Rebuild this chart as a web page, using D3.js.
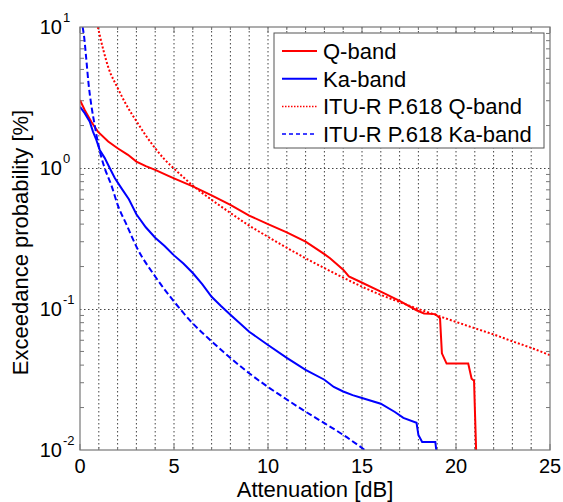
<!DOCTYPE html>
<html>
<head>
<meta charset="utf-8">
<script src="https://cdn.jsdelivr.net/npm/d3@7"></script>
<style>
  body { margin: 0; background: #fff; }
  svg { display: block; font-family: "Liberation Sans", Arial, sans-serif; }
</style>
</head>
<body>
<div id="chart"></div>
<script>
// Measured Q-band exceedance curve
const qBandAtt = [0, 0.25, 0.6, 0.95, 1.5, 2.0, 2.55, 3.0, 3.5, 4.0, 4.7, 5, 6, 7, 8, 9, 10, 11, 12, 13, 13.3, 14, 14.3, 14.9, 16, 17, 17.9, 18.3, 18.9, 19.15, 19.25, 19.5, 20.65, 20.83, 20.96, 21.0, 21.07];
const qBandProb = [3.03, 2.58, 2.13, 1.81, 1.54, 1.38, 1.24, 1.11, 1.03, 0.97, 0.88, 0.845, 0.74, 0.64, 0.547, 0.46, 0.40, 0.35, 0.30, 0.245, 0.229, 0.19, 0.17, 0.156, 0.133, 0.114, 0.098, 0.093, 0.092, 0.086, 0.0485, 0.041, 0.041, 0.032, 0.031, 0.0203, 0.01];

// Measured Ka-band exceedance curve
const kaBandAtt = [0, 0.25, 0.52, 0.69, 0.87, 1.05, 1.31, 1.58, 1.85, 2.2, 2.6, 3.0, 3.5, 4, 4.5, 5, 5.5, 6, 6.5, 7, 7.5, 8, 9, 10, 11, 12, 13, 13.5, 14, 14.5, 15, 16, 16.75, 17.2, 17.9, 18.0, 18.2, 18.9, 18.95];
const kaBandProb = [2.72, 2.45, 2.13, 1.81, 1.58, 1.34, 1.18, 1.0, 0.85, 0.72, 0.6, 0.47, 0.38, 0.32, 0.28, 0.24, 0.21, 0.18, 0.15, 0.122, 0.105, 0.091, 0.069, 0.0556, 0.045, 0.037, 0.0315, 0.028, 0.026, 0.0245, 0.0234, 0.0213, 0.0186, 0.0169, 0.0156, 0.0128, 0.0114, 0.0114, 0.01];

// ITU-R P.618 predictions
const ituQAtt = [0.95, 1.25, 1.5, 2.0, 2.5, 3.0, 3.5, 4.0, 4.5, 5, 5.5, 6, 7, 8, 9, 10, 11, 12, 13, 14, 15, 16, 17, 18, 19, 20, 21, 22, 23, 24, 25];
const ituQProb = [10, 6.8, 5.2, 3.7, 2.75, 2.15, 1.7, 1.38, 1.15, 0.99, 0.86, 0.75, 0.595, 0.48, 0.39, 0.325, 0.272, 0.229, 0.195, 0.167, 0.144, 0.126, 0.112, 0.1, 0.09, 0.081, 0.073, 0.066, 0.059, 0.053, 0.047];

const ituKaAtt = [0.14, 0.22, 0.33, 0.46, 0.6, 0.78, 0.96, 1.13, 1.31, 1.66, 2.0, 2.5, 3, 4, 5, 6, 7, 8, 9, 10, 11, 12, 13, 14, 15.15];
const ituKaProb = [10, 8.5, 6.0, 3.9, 2.8, 2.02, 1.5, 1.2, 1.0, 0.76, 0.55, 0.39, 0.277, 0.17, 0.113, 0.079, 0.059, 0.045, 0.035, 0.028, 0.0228, 0.0187, 0.0155, 0.0128, 0.01];

const xTicks = [0, 5, 10, 15, 20, 25];
const yTicks = [1e-2, 1e-1, 1e0, 1e1];
const yExponents = ["-2", "-1", "0", "1"];
const seriesNames = ["Q-band", "Ka-band", "ITU-R P.618 Q-band", "ITU-R P.618 Ka-band"];

const W = 563, H = 502;
const margin = { top: 27, right: 13, bottom: 52, left: 80 };
const width = W - margin.left - margin.right;
const height = H - margin.top - margin.bottom;

const svg = d3.select("#chart").append("svg")
	.attr("width", W)
	.attr("height", H);

const g = svg.append("g")
	.attr("transform", `translate(${margin.left},${margin.top})`);

const x = d3.scaleLinear().domain([0, 25]).range([0, width]);
const y = d3.scaleLog().domain([1e-2, 1e1]).range([height, 0]);

// grid: every dB vertically, decades horizontally
const gridColor = "#444";
g.selectAll("line.vgrid")
	.data(d3.range(1, 25))
	.enter().append("line")
	.attr("class", "vgrid")
	.attr("x1", d => x(d)).attr("x2", d => x(d))
	.attr("y1", 0).attr("y2", height)
	.attr("stroke", gridColor)
	.attr("stroke-width", 1)
	.attr("stroke-dasharray", "1.5,2.5");

g.selectAll("line.hgrid")
	.data([1e-1, 1e0])
	.enter().append("line")
	.attr("class", "hgrid")
	.attr("x1", 0).attr("x2", width)
	.attr("y1", d => Math.round(y(d)) + 0.5).attr("y2", d => Math.round(y(d)) + 0.5)
	.attr("stroke", gridColor)
	.attr("stroke-width", 1)
	.attr("stroke-dasharray", "1.5,2.5");

// minor ticks on y (left and right), inward
const minorY = [];
[1e-2, 1e-1, 1e0].forEach(dec => {
	for (let k = 2; k <= 9; k++) minorY.push(dec * k);
});
const axisColor = "#777";
g.selectAll("line.yminL")
	.data(minorY)
	.enter().append("line")
	.attr("x1", 0).attr("x2", 4)
	.attr("y1", d => y(d)).attr("y2", d => y(d))
	.attr("stroke", axisColor);
g.selectAll("line.yminR")
	.data(minorY)
	.enter().append("line")
	.attr("x1", width - 4).attr("x2", width)
	.attr("y1", d => y(d)).attr("y2", d => y(d))
	.attr("stroke", axisColor);

// x ticks top and bottom
g.selectAll("line.xtT")
	.data(d3.range(0, 26))
	.enter().append("line")
	.attr("x1", d => x(d)).attr("x2", d => x(d))
	.attr("y1", 0).attr("y2", d => d % 5 === 0 ? 6 : 3)
	.attr("stroke", axisColor);
g.selectAll("line.xtB")
	.data(d3.range(0, 26))
	.enter().append("line")
	.attr("x1", d => x(d)).attr("x2", d => x(d))
	.attr("y1", height).attr("y2", d => height - (d % 5 === 0 ? 6 : 3))
	.attr("stroke", axisColor);

// clip for data lines
svg.append("defs").append("clipPath").attr("id", "clip")
	.append("rect").attr("x", 0).attr("y", 0).attr("width", width).attr("height", height);

const line = d3.line()
	.x(d => x(d[0]))
	.y(d => y(d[1]));

const smoothLine = d3.line()
	.curve(d3.curveMonotoneX)
	.x(d => x(d[0]))
	.y(d => y(d[1]));

const series = [
	{ att: qBandAtt, prob: qBandProb, color: "#ff0000", dash: null, gen: line },
	{ att: kaBandAtt, prob: kaBandProb, color: "#0000ff", dash: null, gen: line },
	{ att: ituQAtt, prob: ituQProb, color: "#ff0000", dash: "2,2", gen: smoothLine },
	{ att: ituKaAtt, prob: ituKaProb, color: "#0000ff", dash: "6,3", gen: smoothLine }
];

const plot = g.append("g").attr("clip-path", "url(#clip)");
series.forEach(s => {
	plot.append("path")
		.datum(s.att.map((a, i) => [a, s.prob[i]]))
		.attr("fill", "none")
		.attr("stroke", s.color)
		.attr("stroke-width", 2)
		.attr("stroke-dasharray", s.dash)
		.attr("d", s.gen);
});

// axis box
g.append("rect")
	.attr("x", 0).attr("y", 0)
	.attr("width", width).attr("height", height)
	.attr("fill", "none")
	.attr("stroke", axisColor)
	.attr("stroke-width", 1.2);

// x tick labels
g.selectAll("text.xlab")
	.data(xTicks)
	.enter().append("text")
	.attr("x", d => x(d))
	.attr("y", height + 23)
	.attr("text-anchor", "middle")
	.attr("font-size", 20)
	.text(d => d);

// y tick labels with superscript exponents
yTicks.forEach((v, i) => {
	g.append("text")
		.attr("x", -18)
		.attr("y", y(v) + 7)
		.attr("text-anchor", "end")
		.attr("font-size", 20)
		.text("10");
	g.append("text")
		.attr("x", -17)
		.attr("y", y(v) - 5)
		.attr("text-anchor", "start")
		.attr("font-size", 13)
		.text(yExponents[i]);
});

// axis titles
svg.append("text")
	.attr("x", margin.left + width / 2)
	.attr("y", 497)
	.attr("text-anchor", "middle")
	.attr("font-size", 22)
	.text("Attenuation [dB]");

svg.append("text")
	.attr("transform", `translate(28,${margin.top + height / 2 + 4}) rotate(-90)`)
	.attr("text-anchor", "middle")
	.attr("font-size", 22)
	.text("Exceedance probability [%]");

// legend
const legend = svg.append("g").attr("transform", "translate(274,33)");
legend.append("rect")
	.attr("width", 270).attr("height", 115)
	.attr("fill", "#fff")
	.attr("stroke", "#555")
	.attr("stroke-width", 1);

seriesNames.forEach((name, i) => {
	const yy = 18 + i * 27.7;
	legend.append("line")
		.attr("x1", 8).attr("x2", 43)
		.attr("y1", yy).attr("y2", yy)
		.attr("stroke", series[i].color)
		.attr("stroke-width", i < 2 ? 2 : 1.5)
		.attr("stroke-dasharray", i === 2 ? "1.5,1.5" : i === 3 ? "4,3" : null);
	legend.append("text")
		.attr("x", 49)
		.attr("y", yy + 8)
		.attr("font-size", 22)
		.text(name);
});
</script>
</body>
</html>
